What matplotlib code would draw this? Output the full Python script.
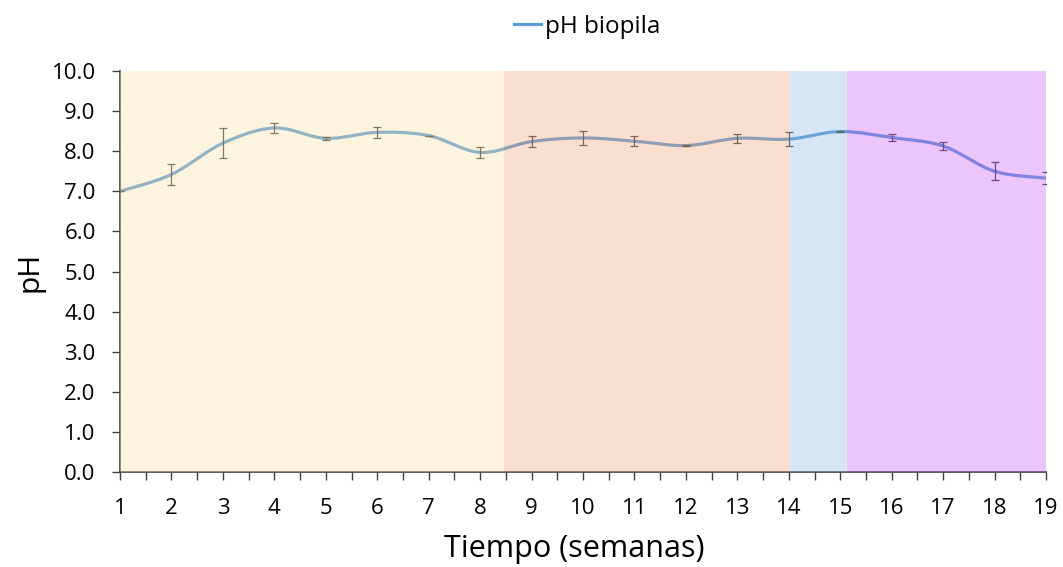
import numpy as np
import matplotlib
matplotlib.use("Agg")
import matplotlib.pyplot as plt
from matplotlib.lines import Line2D

plt.rcParams['font.family'] = ['Open Sans', 'DejaVu Sans']

weeks = [1, 2, 3, 4, 5, 6, 7, 8, 9, 10, 11, 12, 13, 14, 15, 16, 17, 18, 19]
ph = [7.00, 7.42, 8.20, 8.58, 8.32, 8.47, 8.39, 7.97, 8.24, 8.33, 8.25, 8.14,
      8.32, 8.30, 8.49, 8.34, 8.13, 7.50, 7.33]
ph_err = [0.0, 0.26, 0.37, 0.12, 0.04, 0.14, 0.0, 0.14, 0.14, 0.17, 0.12, 0.02,
          0.11, 0.17, 0.02, 0.09, 0.10, 0.22, 0.15]
phase_bounds = [1, 8.47, 14.02, 15.13, 19]
phase_colors = ['#f9e2a4', '#f1a679', '#8ab8e0', '#c659f6']
xtick_labels = [str(w) for w in weeks]


def smooth(x, y, n=20):
    # Excel-style smoothed line (cubic Bezier through the points)
    x = np.asarray(x, float); y = np.asarray(y, float)
    P = np.column_stack([x, y])
    out = []
    for i in range(len(P) - 1):
        p0 = P[i - 1] if i > 0 else P[i]
        p1 = P[i]; p2 = P[i + 1]
        p3 = P[i + 2] if i + 2 < len(P) else P[i + 1]
        c1 = p1 + (p2 - p0) / 6.0
        c2 = p2 - (p3 - p1) / 6.0
        t = np.linspace(0, 1, n, endpoint=(i == len(P) - 2))[:, None]
        seg = ((1 - t) ** 3) * p1 + 3 * ((1 - t) ** 2) * t * c1 + 3 * (1 - t) * t ** 2 * c2 + t ** 3 * p2
        out.append(seg)
    s = np.vstack(out)
    return s[:, 0], s[:, 1]


fig = plt.figure(figsize=(10.63, 5.67), dpi=100)
ax = fig.add_axes([120 / 1063, 95 / 567, (1046 - 120) / 1063, (496 - 95) / 567])

sx, sy = smooth(weeks, ph)
ax.plot(sx, sy, color='#5b9bd5', lw=2.3, zorder=2, solid_capstyle='round')
ax.errorbar(weeks, ph, yerr=ph_err, fmt='none', ecolor='#404040', elinewidth=0.9,
            capsize=3, capthick=0.9, zorder=2)

for i, c in enumerate(phase_colors):
    ax.axvspan(phase_bounds[i], phase_bounds[i + 1], color=c, alpha=0.35, lw=0, zorder=3)

ax.set_xlim(1, 19)
ax.set_ylim(0, 10)
ax.set_yticks(np.arange(0, 10.01, 1.0))
ax.set_yticklabels([f"{v:.1f}" for v in np.arange(0, 10.01, 1.0)], fontsize=16)
ax.set_xticks(weeks)
ax.set_xticklabels(xtick_labels, fontsize=16)
ax.set_xticks(np.arange(1.5, 19, 1.0), minor=True)
ax.tick_params(axis='x', which='both', direction='out', length=6, width=1, color='#404040', pad=12.5)
ax.tick_params(axis='y', which='major', direction='out', length=6, width=1, color='#404040', pad=11.5)

for s in ['top', 'right']:
    ax.spines[s].set_visible(False)
for s in ['left', 'bottom']:
    ax.spines[s].set_color('#404040')
    ax.spines[s].set_linewidth(1.2)

ax.set_xlabel('Tiempo (semanas)', fontsize=22, labelpad=11)
ax.xaxis.label.set_x((574.5 - 120) / 926)
ax.set_ylabel('pH', fontsize=21.5, labelpad=5)

handle = Line2D([], [], color='#5b9bd5', lw=2.3)
fig.legend([handle], ['pH biopila'], loc='center', bbox_to_anchor=(587 / 1063, 1 - 27 / 567),
           frameon=False, fontsize=17.5, handlelength=1.1, handletextpad=0.15)

fig.savefig('out.png', dpi=100)
